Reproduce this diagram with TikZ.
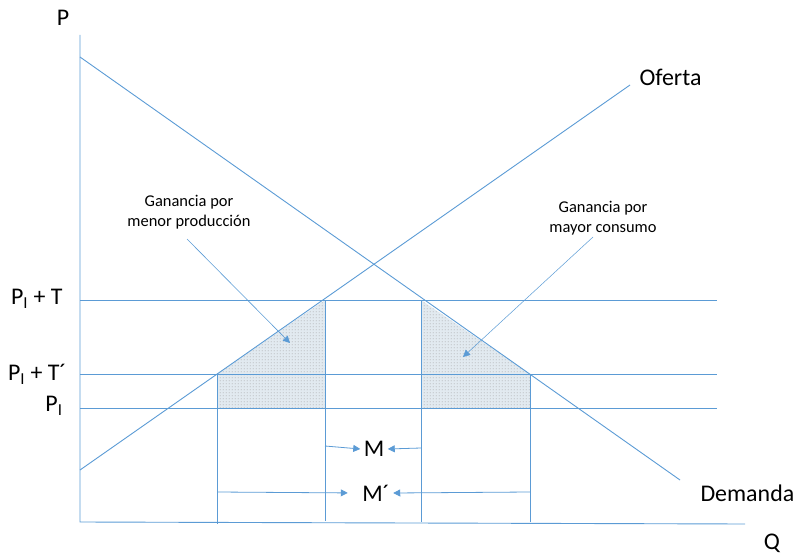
\documentclass[tikz,border=0pt]{standalone}
\usepackage{fontspec}
\setmainfont{Carlito}
\usetikzlibrary{arrows.meta,patterns}
\definecolor{azul}{RGB}{91,155,213}
\definecolor{relleno}{RGB}{226,234,240}
\pgfdeclarepatternformonly{puntos}{\pgfpointorigin}{\pgfqpoint{3bp}{3bp}}{\pgfqpoint{3bp}{3bp}}{%
  \pgfpathcircle{\pgfqpoint{1.5bp}{1.5bp}}{0.65bp}\pgfusepath{fill}}
\tikzset{
  linea/.style={draw=azul, line width=0.9bp},
  flecha/.style={draw=azul, line width=0.8bp, -{Triangle[length=7bp,width=7bp]}},
  etiq/.style={font=\fontsize{24}{26}\selectfont},
  nota/.style={font=\fontsize{16.5}{20}\selectfont, align=center},
  area/.style={fill=relleno, postaction={pattern=puntos, pattern color=gray!75}}
}
\begin{document}
\begin{tikzpicture}[x=1bp,y=-1bp]
\useasboundingbox (0,0) rectangle (802,556);
% areas de ganancia
\fill[area] (217,374) -- (325,300) -- (325,408) -- (217,408) -- cycle;
\fill[area] (421,300) -- (530,374) -- (530,408) -- (421,408) -- cycle;
% ejes
\coordinate (origen) at (80,522);
\coordinate (ytop) at (80,35);
\coordinate (xend) at (745,524);
\draw[linea] (ytop) -- (origen) -- (xend);
\node[etiq] (P) at (63,18) {P};
\node[etiq] (Q) at (772,543) {Q};
% precios
\coordinate (pt0) at (80,300); \coordinate (pt1) at (717,300);
\coordinate (pu0) at (80,374); \coordinate (pu1) at (717,374);
\coordinate (pi0) at (80,408); \coordinate (pi1) at (717,408);
\draw[linea] (pt0) -- (pt1);
\draw[linea] (pu0) -- (pu1);
\draw[linea] (pi0) -- (pi1);
\node[etiq, anchor=east] (PT) at (66,299) {P\textsubscript{I} + T};
\node[etiq, anchor=east] (PTp) at (70,374) {P\textsubscript{I} + T´};
\node[etiq, anchor=east] (PI) at (66,406) {P\textsubscript{I}};
% oferta y demanda
\coordinate (of0) at (80,470); \coordinate (of1) at (630,85);
\coordinate (de0) at (80,57); \coordinate (de1) at (680,480);
\draw[linea] (of0) -- (of1);
\draw[linea] (de0) -- (de1);
\node[etiq, anchor=west] (oferta) at (636,77) {Oferta};
\node[etiq, anchor=west] (demanda) at (697,493) {Demanda};
% cantidades
\coordinate (q1) at (217,374); \coordinate (q1b) at (217,524);
\coordinate (q2) at (325,300); \coordinate (q2b) at (325,521);
\coordinate (q3) at (421,300); \coordinate (q3b) at (421,522);
\coordinate (q4) at (530,374); \coordinate (q4b) at (530,522);
\draw[linea] (q1) -- (q1b);
\draw[linea] (q2) -- (q2b);
\draw[linea] (q3) -- (q3b);
\draw[linea] (q4) -- (q4b);
% importaciones
\node[etiq] (M) at (374,449) {M};
\node[etiq] (Mp) at (376,493) {M´};
\coordinate (m1) at (325,446); \coordinate (m2) at (421,448);
\coordinate (m3) at (217,492); \coordinate (m4) at (530,492);
\draw[flecha] (m1) -- (M.west);
\draw[flecha] (m2) -- (M.east);
\draw[flecha, shorten >=11bp] (m3) -- (Mp.west);
\draw[flecha] (m4) -- (Mp.east);
% notas
\node[nota] (gmp) at (189,212) {Ganancia por\\menor producción};
\node[nota] (gmc) at (603,218) {Ganancia por\\mayor consumo};
\coordinate (gmpA) at (187,239); \coordinate (gmpB) at (290,343);
\coordinate (gmcA) at (593,237); \coordinate (gmcB) at (463,357);
\draw[flecha, line width=0.6bp] (gmpA) -- (gmpB);
\draw[flecha, line width=0.5bp] (gmcA) -- (gmcB);
\end{tikzpicture}
\end{document}
